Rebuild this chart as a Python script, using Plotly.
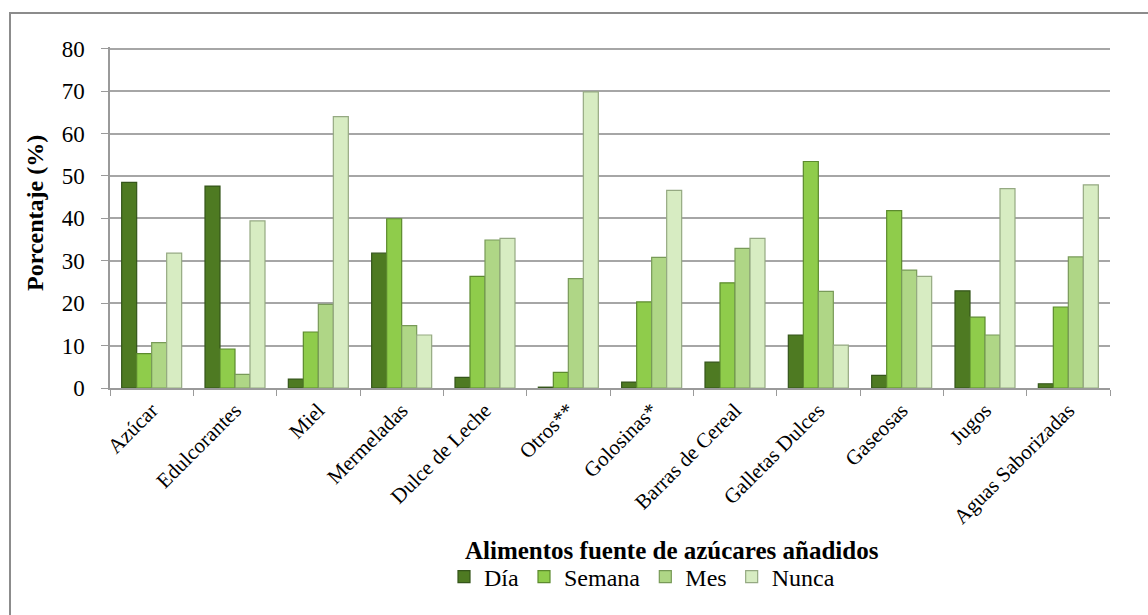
import plotly.graph_objects as go

categorias = ["Azúcar", "Edulcorantes", "Miel", "Mermeladas", "Dulce de Leche",
              "Otros**", "Golosinas*", "Barras de Cereal", "Galletas Dulces",
              "Gaseosas", "Jugos", "Aguas Saborizadas"]

dia = [48.5, 47.6, 2.1, 31.8, 2.5, 0.2, 1.4, 6.1, 12.5, 3.0, 22.9, 1.0]
semana = [8.1, 9.2, 13.2, 39.9, 26.3, 3.7, 20.3, 24.8, 53.4, 41.8, 16.7, 19.1]
mes = [10.7, 3.2, 19.7, 14.7, 34.9, 25.8, 30.8, 32.9, 22.8, 27.8, 12.5, 30.9]
nunca = [31.8, 39.4, 64.0, 12.5, 35.3, 69.8, 46.6, 35.3, 10.1, 26.3, 47.0, 47.9]

series = [
    ("Día", dia, "#4e7a22", "#34551a"),
    ("Semana", semana, "#8fcc4b", "#5c8a2e"),
    ("Mes", mes, "#afd686", "#789a58"),
    ("Nunca", nunca, "#d7ecc2", "#95a982"),
]

FONT = "serif"

# plot area: x 110..1110 px, y 47..388 px
PW, PH = 1000, 341

fig = go.Figure()
for nombre, valores, color, borde in series:
    fig.add_trace(go.Bar(
        name=nombre, x=categorias, y=valores,
        marker=dict(color=color, line=dict(color=borde, width=1.2)),
    ))

fig.update_layout(
    width=1148, height=615,
    margin=dict(l=110, r=38, t=47, b=227),
    paper_bgcolor="white", plot_bgcolor="white",
    barmode="group", bargap=0.28, bargroupgap=0.0,
    font=dict(family=FONT, color="black"),
    showlegend=True,
    legend=dict(orientation="h", x=(642 - 110) / PW, xanchor="center",
                y=(388 - 577) / PH, yanchor="middle",
                font=dict(size=24, family=FONT), itemwidth=30,
                traceorder="normal"),
    shapes=[dict(type="rect", xref="paper", yref="paper",
                 x0=-100 / PW, x1=1.1, y0=-0.8, y1=(388 - 13) / PH,
                 line=dict(color="#8c8c8c", width=2), layer="below")],
    annotations=[
        dict(text="<b>Porcentaje (%)</b>", textangle=-90, xref="paper", yref="paper",
             x=(35 - 110) / PW, y=(388 - 213) / PH, xanchor="center", yanchor="middle",
             showarrow=False, font=dict(size=24, family=FONT)),
        dict(text="<b>Alimentos fuente de azúcares añadidos</b>", xref="paper", yref="paper",
             x=(463 - 110) / PW, y=(388 - 550) / PH, xanchor="left", yanchor="middle",
             showarrow=False, font=dict(size=25, family=FONT)),
    ],
)

fig.update_xaxes(
    tickangle=-45, tickfont=dict(size=21, family=FONT),
    showline=True, linecolor="#9a9a9a", linewidth=1.5,
    ticks="outside", tickson="boundaries", ticklen=6, tickcolor="#9a9a9a",
    showgrid=False, automargin=False,
)
fig.update_yaxes(
    range=[0, 80.4], tickvals=[0, 10, 20, 30, 40, 50, 60, 70, 80],
    tickfont=dict(size=23, family=FONT), ticklabelstandoff=12,
    showline=True, linecolor="#9a9a9a", linewidth=1.5,
    ticks="outside", ticklen=7, tickcolor="#9a9a9a",
    showgrid=True, gridcolor="#a6a6a6", gridwidth=1.5,
    zeroline=False, automargin=False,
)

fig.write_html("out.html")
